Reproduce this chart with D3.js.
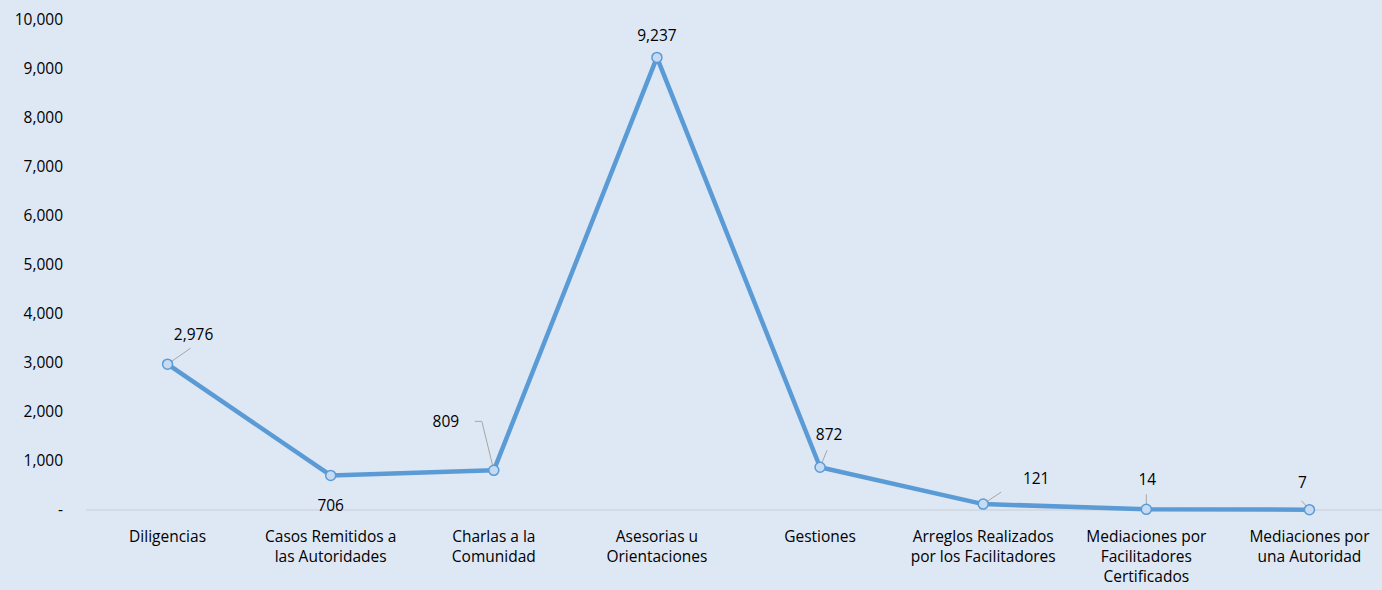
<!DOCTYPE html>
<html>
<head>
<meta charset="utf-8">
<script src="https://cdn.jsdelivr.net/npm/d3@7"></script>
<style>
  body { margin: 0; background: #dee8f5; }
  text { font-family: "Open Sans", sans-serif; fill: #000; }
</style>
</head>
<body>
<svg id="chart"></svg>
<script>
const categories = [
    ["Diligencias"],
    ["Casos Remitidos a", "las Autoridades"],
    ["Charlas a la", "Comunidad"],
    ["Asesorias u", "Orientaciones"],
    ["Gestiones"],
    ["Arreglos Realizados", "por los Facilitadores"],
    ["Mediaciones por", "Facilitadores", "Certificados"],
    ["Mediaciones por", "una Autoridad"]
];
const values = [2976, 706, 809, 9237, 872, 121, 14, 7];
const yTicks = [0, 1000, 2000, 3000, 4000, 5000, 6000, 7000, 8000, 9000, 10000];
// label offsets (dx, dy) relative to point, and leader line end offsets
const labelPos = [[26, -30], [0, 30], [-48, -49], [0, -22], [9, -33], [53, -25], [1, -30], [-7, -27]];
const leaders = [[[0, 0], [23, -16]], null, [[0, 0], [-12, -49], [-19, -49]], null, [[0, 0], [7, -17]], [[0, 0], [18, -12]], [[0, 0], [0, -15]], [[0, 0], [-8, -9]]];

{
    const W = 1382, H = 590;
    const svg = d3.select("#chart").attr("width", W).attr("height", H);

    const xScale = d3.scaleBand()
        .domain(d3.range(values.length))
        .range([86, 1391]);
    const yScale = d3.scaleLinear()
        .domain([0, 10000])
        .range([510, 20]);

    const cx = i => xScale(i) + xScale.bandwidth() / 2;

    // y axis labels
    const fmt = d3.format(",");
    svg.append("g").selectAll("text")
        .data(yTicks)
        .enter().append("text")
        .attr("x", 63)
        .attr("y", d => yScale(d))
        .attr("dy", "0.35em")
        .attr("text-anchor", "end")
        .attr("font-size", 15.5)
        .text(d => d === 0 ? "-" : fmt(d));

    // baseline
    svg.append("line")
        .attr("x1", 86).attr("x2", W)
        .attr("y1", yScale(0)).attr("y2", yScale(0))
        .attr("stroke", "#c8ccd2")
        .attr("stroke-width", 1);

    // category labels
    const cat = svg.append("g").selectAll("text")
        .data(categories)
        .enter().append("text")
        .attr("x", (d, i) => cx(i))
        .attr("y", 542)
        .attr("text-anchor", "middle")
        .attr("font-size", 15.5);
    cat.selectAll("tspan")
        .data(d => d)
        .enter().append("tspan")
        .attr("x", function() { return d3.select(this.parentNode).attr("x"); })
        .attr("dy", (d, i) => i === 0 ? 0 : 20)
        .text(d => d);

    // line
    svg.append("path")
        .datum(values)
        .attr("fill", "none")
        .attr("stroke", "#5b9bd5")
        .attr("stroke-width", 4.5)
        .attr("stroke-linejoin", "round")
        .attr("d", d3.line().x((d, i) => cx(i)).y(d => yScale(d)));

    // leader lines
    leaders.forEach((l, i) => {
        if (!l) return;
        svg.append("path")
            .attr("fill", "none")
            .attr("stroke", "#a6a6a6")
            .attr("stroke-width", 1)
            .attr("d", d3.line()(l.map(p => [cx(i) + p[0], yScale(values[i]) + p[1]])));
    });

    // markers
    svg.append("g").selectAll("circle")
        .data(values)
        .enter().append("circle")
        .attr("cx", (d, i) => cx(i))
        .attr("cy", d => yScale(d))
        .attr("r", 5)
        .attr("fill", "#c6dbf3")
        .attr("stroke", "#5b9bd5")
        .attr("stroke-width", 1.5);

    // data labels
    svg.append("g").selectAll("text")
        .data(values)
        .enter().append("text")
        .attr("x", (d, i) => cx(i) + labelPos[i][0])
        .attr("y", (d, i) => yScale(d) + labelPos[i][1])
        .attr("dy", "0.35em")
        .attr("text-anchor", "middle")
        .attr("font-size", 15.5)
        .text(d => fmt(d));
}
</script>
</body>
</html>
